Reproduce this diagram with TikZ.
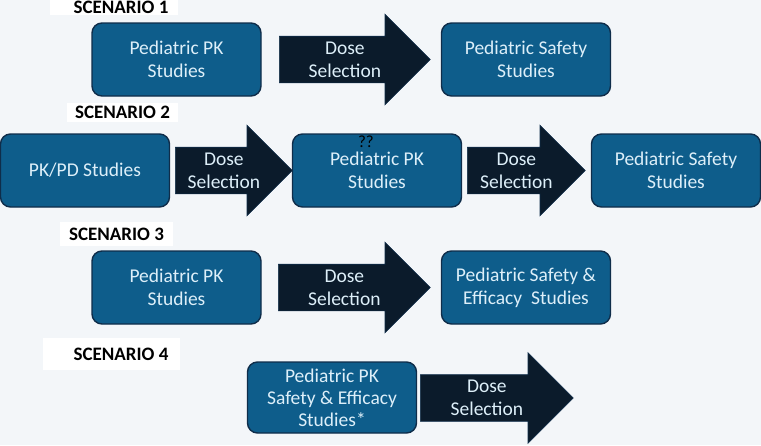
\documentclass[tikz,border=0pt]{standalone}
\usepackage{fontspec}
\setmainfont{Carlito}
\usetikzlibrary{shapes.arrows,calc}
\usepackage{xcolor}

\definecolor{bgcol}{HTML}{F3F6F9}
\definecolor{boxfill}{HTML}{0E5D8B}
\definecolor{boxline}{HTML}{0F2D4A}
\definecolor{arrowfill}{HTML}{0B1B2B}
\definecolor{lighttext}{HTML}{DDEFF9}

\begin{document}
\begin{tikzpicture}[%
            x=1pt, y=-1pt,
            study/.style={rectangle, rounded corners=10pt, draw=boxline, line width=1.4pt,
                fill=boxfill, text=lighttext, align=center, minimum width=169pt,
                minimum height=73pt, inner sep=2pt,
                font=\fontsize{19.5}{23}\selectfont},
            dosearrow/.style={single arrow, draw=boxline, line width=0.6pt, fill=arrowfill,
                single arrow head extend=22pt, minimum width=90pt, inner xsep=0pt,
                inner ysep=23pt, anchor=tail},
            doselabel/.style={text=lighttext, align=center, xshift=-10pt,
                font=\fontsize{19.5}{23}\selectfont},
            scenario/.style={fill=white, font=\fontsize{19}{20}\selectfont\bfseries,
                inner sep=0pt}
        ]

        \useasboundingbox (0,0) rectangle (761,445);
        \fill[bgcol] (0,0) rectangle (761,445);

        % Scenario 1
        \node[scenario, minimum width=128pt, minimum height=30pt] (sc1) at (114,0) {};
        \node[font=\fontsize{19}{20}\selectfont\bfseries] (sc1t) at (121,7) {SCENARIO 1};
        \node[study] (pk1) at (176.5,59.5) {Pediatric PK\\Studies};
        \node[dosearrow, minimum height=151pt] (arr1) at (279,59.5) {};
        \node[doselabel] (dose1) at ($(arr1.tail)!0.5!(arr1.tip)$) {Dose\\Selection};
        \node[study] (safe1) at (526,59.5) {Pediatric Safety\\Studies};

        % Scenario 2
        \node[scenario, minimum width=111pt, minimum height=19pt] (sc2) at (122.5,112.5) {SCENARIO 2};
        \node[study] (pkpd2) at (85,170.5) {PK/PD Studies};
        \node[dosearrow, minimum height=117pt] (arr2) at (175,170.5) {};
        \node[doselabel] (dose2) at ($(arr2.tail)!0.5!(arr2.tip)$) {Dose\\Selection};
        \node[study] (pk2) at (377,170.5) {Pediatric PK\\Studies};
        \node[font=\fontsize{17}{20}\selectfont] (qq) at (366,142) {??};
        \node[dosearrow, minimum height=118pt] (arr3) at (467,170.5) {};
        \node[doselabel] (dose3) at ($(arr3.tail)!0.5!(arr3.tip)$) {Dose\\Selection};
        \node[study] (safe2) at (676,170.5) {Pediatric Safety\\Studies};

        % Scenario 3
        \node[scenario, minimum width=113pt, minimum height=24pt] (sc3) at (116.5,234) {SCENARIO 3};
        \node[study] (pk3) at (176.5,287.5) {Pediatric PK\\Studies};
        \node[dosearrow, minimum height=152pt] (arr4) at (278,287.5) {};
        \node[doselabel] (dose4) at ($(arr4.tail)!0.5!(arr4.tip)$) {Dose\\Selection};
        \node[study] (safe3) at (526,287.5) {Pediatric Safety \&\\Efficacy\ \ Studies};

        % Scenario 4
        \node[scenario, minimum width=137pt, minimum height=32pt] (sc4) at (111.5,354) {};
        \node[font=\fontsize{19}{20}\selectfont\bfseries] (sc4t) at (121,354) {SCENARIO 4};
        \node[study, minimum height=71pt, font=\fontsize{19.5}{22}\selectfont] (pk4) at (332,397.5)
            {Pediatric PK\\Safety \& Efficacy\\Studies*};
        \node[dosearrow, minimum height=153pt] (arr5) at (420,398) {};
        \node[doselabel] (dose5) at ($(arr5.tail)!0.5!(arr5.tip)$) {Dose\\Selection};

\end{tikzpicture}
\end{document}
